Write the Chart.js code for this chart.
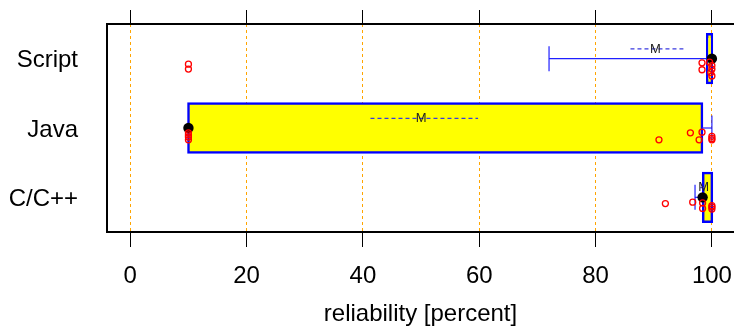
<!DOCTYPE html>
<html><head><meta charset="utf-8">
<script src="https://cdn.jsdelivr.net/npm/chart.js@4.4.0/dist/chart.umd.min.js"></script>
<style>html,body{margin:0;padding:0;background:#fff}canvas{display:block}</style>
</head><body>
<canvas id="c" width="734" height="329"></canvas>
<script>
// ---- data ----
const categories = ['C/C++', 'Java', 'Script'];
const catPos = [1, 2, 3];
const xTicks = [0, 20, 40, 60, 80, 100];
const boxQ1 = [98.5, 10, 99.2];
const boxQ3 = [100, 98.3, 100];
const medians = [98.4, 10, 100];
const whiskerLo = [97.1, 10, 72];
const whiskerHi = [100, 100, 100];
const means = [98.6, 50.0, 90.3];
const meanLo = [98.0, 41.3, 86.0];
const meanHi = [99.2, 59.8, 95.1];
const obsX = [
  [92.0, 96.7, 98.4, 98.4, 100, 100, 100],
  [10, 10, 10, 10, 90.9, 96.3, 97.8, 98.3, 100, 100, 100],
  [10, 10, 98.3, 98.3, 99.6, 100, 100, 99.8, 100]
];
const obsY = [
  [0.91, 0.93, 0.92, 0.84, 0.86, 0.83, 0.88],
  [1.93, 1.90, 1.87, 1.83, 1.83, 1.93, 1.83, 1.94, 1.88, 1.85, 1.83],
  [2.92, 2.85, 2.94, 2.84, 2.95, 2.90, 2.85, 2.80, 2.75]
];
const xTitle = 'reliability [percent]';

// ---- style constants ----
const MEAN_OFF = 0.14;
const CAP = 0.18;
const FONT = "'Liberation Sans', Arial, Helvetica, sans-serif";
Chart.defaults.font.family = FONT;
Chart.defaults.color = '#000';

const datasets = [];
datasets.push({
  type: 'bar', indexAxis: 'y', xAxisID: 'x', yAxisID: 'y',
  data: catPos.map((p, i) => ({ y: p, x: [boxQ1[i], boxQ3[i]] })),
  backgroundColor: '#ffff00', borderColor: '#0000ff', borderWidth: 2.5, inflateAmount: 1.25,
  borderSkipped: false, barPercentage: 0.705, categoryPercentage: 1, order: 6
});
const lineBase = { type: 'line', xAxisID: 'x', yAxisID: 'y', pointRadius: 0, fill: false, tension: 0 };
catPos.forEach((p, i) => {
  if (whiskerLo[i] < boxQ1[i]) {
    datasets.push({ ...lineBase, data: [{ x: whiskerLo[i], y: p }, { x: boxQ1[i], y: p }], borderColor: '#2020ff', borderWidth: 1.2, order: 5 });
    datasets.push({ ...lineBase, data: [{ x: whiskerLo[i], y: p - CAP }, { x: whiskerLo[i], y: p + CAP }], borderColor: '#2020ff', borderWidth: 1.2, order: 5 });
  }
  if (whiskerHi[i] > boxQ3[i]) {
    datasets.push({ ...lineBase, data: [{ x: boxQ3[i], y: p }, { x: whiskerHi[i], y: p }], borderColor: '#2020ff', borderWidth: 1.2, order: 5 });
    datasets.push({ ...lineBase, data: [{ x: whiskerHi[i], y: p - CAP }, { x: whiskerHi[i], y: p + CAP }], borderColor: '#2020ff', borderWidth: 1.2, order: 5 });
  }
  datasets.push({ ...lineBase, data: [{ x: meanLo[i], y: p + MEAN_OFF }, { x: meanHi[i], y: p + MEAN_OFF }], borderColor: '#3a3ae0', borderWidth: 1.3, borderDash: [4, 3], order: 4 });
});
datasets.push({
  type: 'scatter', xAxisID: 'x', yAxisID: 'y',
  data: catPos.map((p, i) => ({ x: medians[i], y: p })),
  pointRadius: 5.2, backgroundColor: '#000', borderWidth: 0, order: 3
});
datasets.push({
  type: 'scatter', xAxisID: 'x', yAxisID: 'y',
  data: obsX.flatMap((xs, i) => xs.map((v, j) => ({ x: v, y: obsY[i][j] }))),
  pointRadius: 3, backgroundColor: 'rgba(0,0,0,0)', borderColor: '#ff0000', borderWidth: 1.3, order: 2
});

const meanLabel = {
  id: 'meanLabel',
  afterDatasetsDraw(chart) {
    const { ctx, scales: { x, y } } = chart;
    ctx.save();
    ctx.font = '13px ' + FONT;
    ctx.fillStyle = '#222';
    ctx.textAlign = 'center';
    ctx.textBaseline = 'middle';
    means.forEach((m, i) => ctx.fillText('M', x.getPixelForValue(m), y.getPixelForValue(catPos[i] + MEAN_OFF)));
    ctx.restore();
  }
};

const setX = s => { s.ticks = xTicks.map(v => ({ value: v })); };
const noPad = s => { s.paddingTop = 0; s.paddingBottom = 0; s.paddingLeft = 0; s.paddingRight = 0; };
new Chart(document.getElementById('c'), {
  type: 'scatter',
  data: { datasets },
  plugins: [meanLabel],
  options: {
    responsive: false, animation: false,
    layout: { autoPadding: false, padding: { top: 10, left: 0, right: 0, bottom: 0 } },
    plugins: { legend: { display: false }, tooltip: { enabled: false } },
    scales: {
      x: {
        type: 'linear', position: 'bottom', min: -4, max: 103.8, offset: false,
        afterBuildTicks: setX,
        afterFit: s => { noPad(s); s.height = 97; },
        ticks: { font: { size: 24 }, color: '#000', padding: 15, maxRotation: 0, autoSkip: false },
        grid: { color: '#ffa500', lineWidth: 1, tickColor: '#000000', tickLength: 15, tickWidth: 1, offset: false },
        border: { color: '#000', width: 2, dash: [3, 3] },
        title: { display: true, text: xTitle, font: { size: 24 }, color: '#000', padding: { top: 4, bottom: 0.5 } }
      },
      y: {
        type: 'linear', position: 'left', min: 0.5, max: 3.5, offset: false,
        afterBuildTicks: s => { s.ticks = catPos.map(v => ({ value: v })); },
        afterFit: s => { s.width = 107; noPad(s); },
        ticks: { font: { size: 24 }, color: '#000', padding: 21, labelOffset: 2, callback: (v, i) => categories[i] },
        grid: { display: false, offset: false },
        border: { display: true, color: '#000', width: 2 }
      },
      x2: {
        type: 'linear', position: 'top', min: -4, max: 103.8, offset: false,
        afterBuildTicks: setX,
        afterFit: noPad,
        ticks: { display: false },
        grid: { drawOnChartArea: false, tickColor: '#000000', tickLength: 14, tickWidth: 1, offset: false },
        border: { color: '#000', width: 2 }
      }
    }
  }
});
</script>
</body></html>
